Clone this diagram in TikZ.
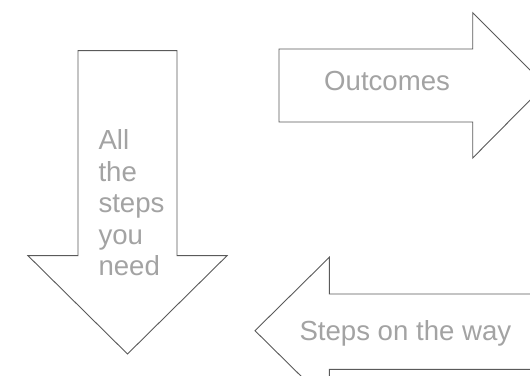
\documentclass[tikz,border=0pt]{standalone}
\usepackage{fontspec}
\setmainfont{Liberation Sans}
\usetikzlibrary{positioning}
\definecolor{outline}{HTML}{5A5A5A}
\definecolor{caption}{HTML}{A3A3A3}
\tikzset{arrowshape/.style={draw=outline, line width=0.9pt, fill=white, line join=miter},
  label/.style={text=caption, inner sep=0pt, font=\fontsize{27.6}{31.5}\selectfont}}
\begin{document}
\begin{tikzpicture}[x=1pt, y=1pt]
\clip (0,0) rectangle (530,375);
\fill[white] (0,0) rectangle (530,375);

\draw[arrowshape] (78,324.3) -- (177,324.3) -- (177,119.3) -- (227,119.3)
  -- (127.5,21) -- (28,119.3) -- (78,119.3) -- cycle;
\draw[arrowshape] (279,326) -- (472.7,326) -- (472.7,362.3) -- (545,290)
  -- (472.7,217) -- (472.7,253) -- (279,253) -- cycle;
\draw[arrowshape] (560,81) -- (329.3,81) -- (329.3,117.7) -- (255,44.3)
  -- (329.3,-29) -- (329.3,5.7) -- (560,5.7);

\node[label, anchor=north west, align=left] (steps) at (98.3,245.5) {All\\the\\steps\\you\\need};
\node[label, anchor=base west] (outcomes) at (324,284.3) {Outcomes};
\node[label, anchor=base west] (way) at (299.3,35) {Steps on the way};
\end{tikzpicture}
\end{document}
